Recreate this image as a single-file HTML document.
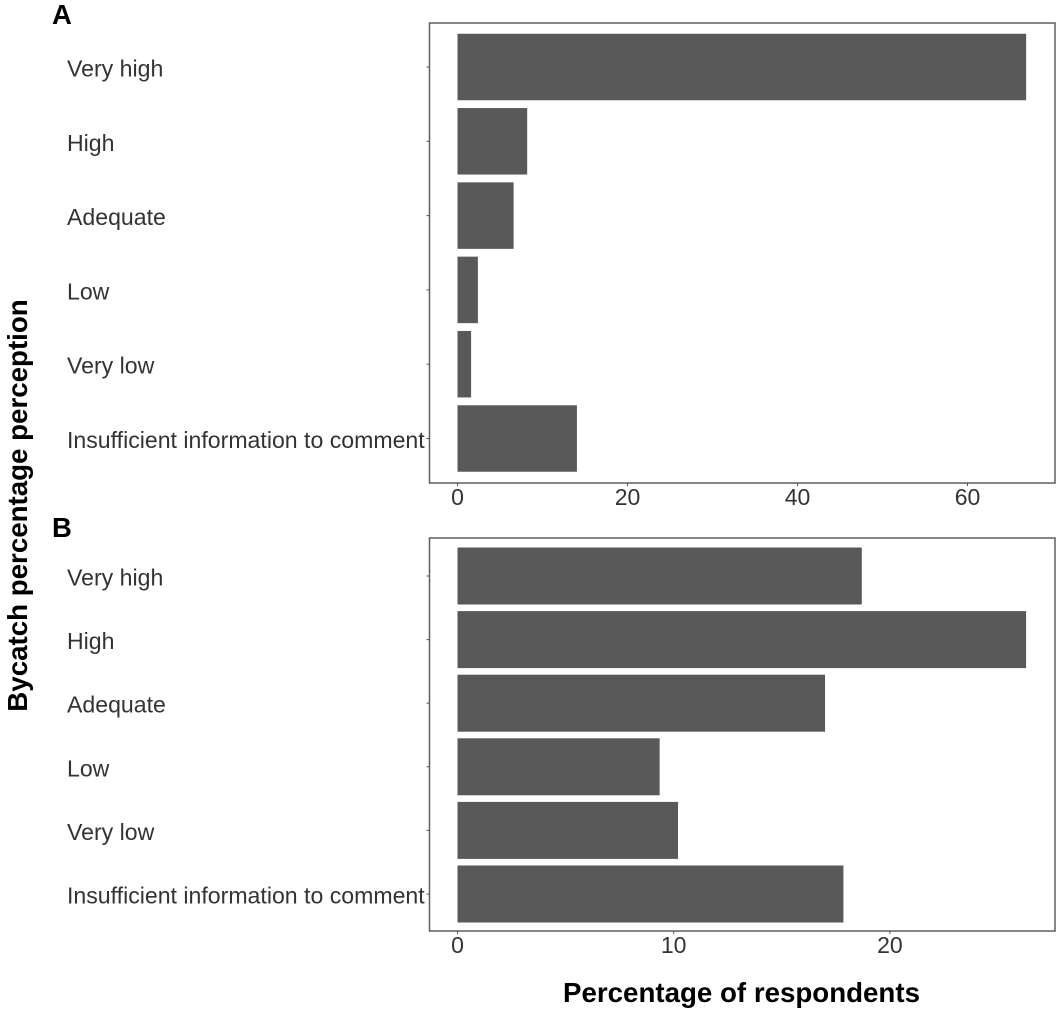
<!DOCTYPE html>
<html lang="en">
<head>
<meta charset="utf-8">
<title>Bycatch percentage perception</title>
<style>
  html, body { margin: 0; padding: 0; background: #fff; }
  svg { display: block; font-family: "Liberation Sans", sans-serif; filter: blur(0.35px); }
  .cat { font-size: 23.1px; fill: #333; }
  .tick { font-size: 23px; fill: #333; text-anchor: middle; }
  .title { font-size: 27.7px; font-weight: bold; fill: #000; text-anchor: middle; }
  .tag { font-size: 27.5px; font-weight: bold; fill: #000; }
</style>
</head>
<body>
<svg id="chart" width="1063" height="1016" viewBox="0 0 1063 1016" xmlns="http://www.w3.org/2000/svg">
  <rect x="0" y="0" width="1063" height="1016" fill="#fff"/>
  <text class="tag" x="52" y="24">A</text>
  <text class="tag" x="52" y="537">B</text>
  <text class="title" transform="translate(27,505.5) rotate(-90)">Bycatch percentage perception</text>
  <text class="title" x="741.5" y="1002">Percentage of respondents</text>
</svg>
<script>
const categories = ["Very high", "High", "Adequate", "Low", "Very low", "Insufficient information to comment"];
const valuesA = [66.9, 8.2, 6.6, 2.4, 1.6, 14.05];
const valuesB = [18.7, 26.3, 17.0, 9.35, 10.2, 17.85];
const ticksA = [0, 20, 40, 60];
const ticksB = [0, 10, 20];

const svg = document.getElementById('chart');
const NS = 'http://www.w3.org/2000/svg';

function make(tag, attrs) {
  const el = document.createElementNS(NS, tag);
  for (const k in attrs) el.setAttribute(k, attrs[k]);
  return el;
}

function drawPanel(panelKey, cats, values, ticks, box, zeroX, pxPerUnit, firstCenter, step, barHeight) {
  const xScale = v => zeroX + v * pxPerUnit;
  const yScale = i => firstCenter + i * step;

  cats.forEach((c, i) => {
    const bar = make('rect', {
      x: xScale(0),
      y: yScale(i) - barHeight / 2,
      width: xScale(values[i]) - xScale(0),
      height: barHeight,
      fill: '#595959'
    });
    
    
    svg.appendChild(bar);

    const label = make('text', { x: 67, y: yScale(i) + 9.5, class: 'cat' });
    label.textContent = c;
    
    
    svg.appendChild(label);

    const mark = make('line', {
      x1: box.left - 3, x2: box.left,
      y1: yScale(i), y2: yScale(i),
      stroke: '#555', 'stroke-width': 1
    });
    
    
    svg.appendChild(mark);
  });

  const frame = make('rect', {
    x: box.left, y: box.top,
    width: box.right - box.left, height: box.bottom - box.top,
    fill: 'none', stroke: '#5f5f5f', 'stroke-width': 1.5
  });
  
  
  svg.appendChild(frame);

  ticks.forEach(t => {
    const mark = make('line', {
      x1: xScale(t), x2: xScale(t),
      y1: box.bottom, y2: box.bottom + 3,
      stroke: '#555', 'stroke-width': 1
    });
    
    
    svg.appendChild(mark);

    const label = make('text', { x: xScale(t), y: box.bottom + 22, class: 'tick' });
    label.textContent = t;
    
    
    svg.appendChild(label);
  });
}

drawPanel('a', categories, valuesA, ticksA, { left: 429.5, right: 1055, top: 23, bottom: 483 }, 457.5, 8.5, 67, 74.3, 66.5);
drawPanel('b', categories, valuesB, ticksB, { left: 429.5, right: 1055, top: 538, bottom: 931 }, 457.5, 21.62, 576, 63.6, 57);
</script>
</body>
</html>
